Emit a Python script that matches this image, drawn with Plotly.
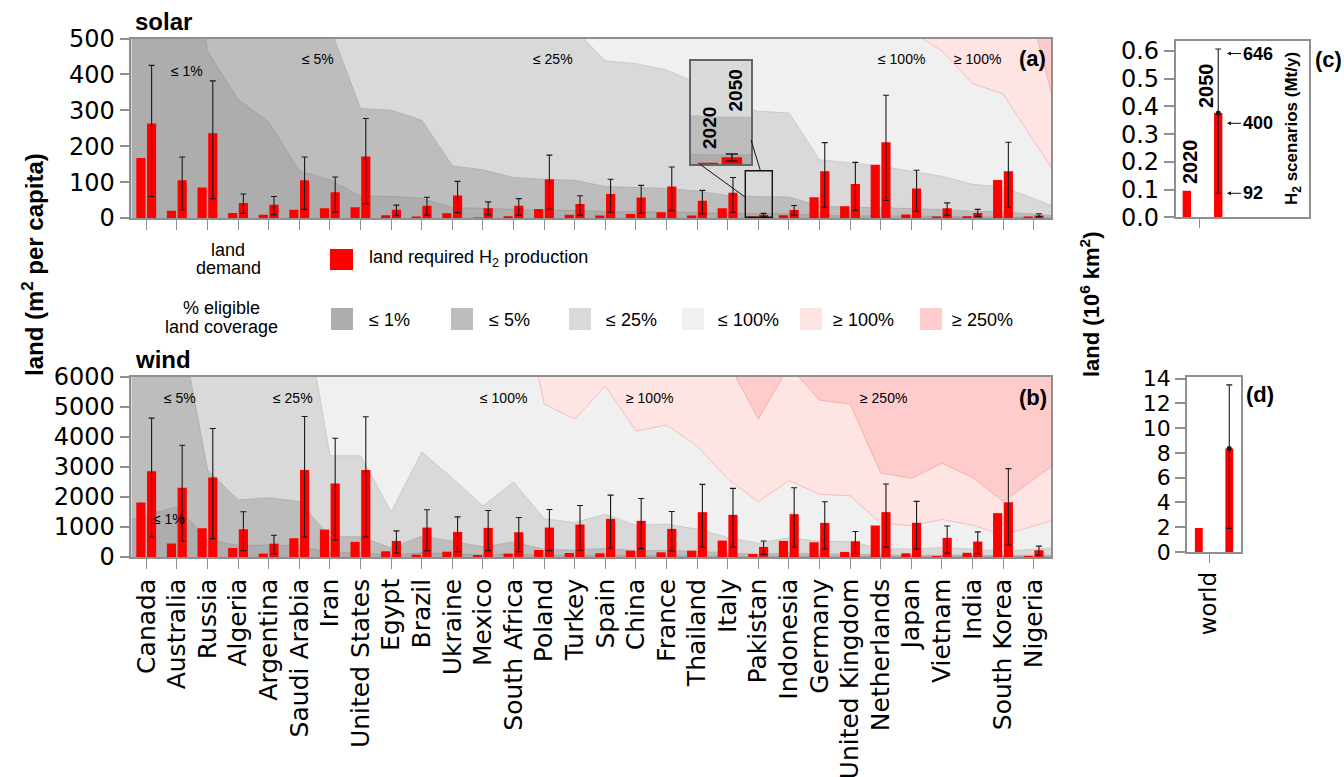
import plotly.graph_objects as go

W, H = 1344, 777

countries = [
    "Canada", "Australia", "Russia", "Algeria", "Argentina", "Saudi Arabia",
    "Iran", "United States", "Egypt", "Brazil", "Ukraine", "Mexico",
    "South Africa", "Poland", "Turkey", "Spain", "China", "France",
    "Thailand", "Italy", "Pakistan", "Indonesia", "Germany",
    "United Kingdom", "Netherlands", "Japan", "Vietnam", "India",
    "South Korea", "Nigeria",
]

# solar: land required for H2 production (m2 per capita)
solar_2020 = [167, 20, 85, 14, 9, 23, 27, 30, 7.5, 2, 13, 1, 5, 25, 9, 7, 11, 16, 7, 27,
              2, 8, 58, 33, 148, 10, 2, 5, 106, 2]
solar_2050 = [263, 105, 236, 42, 37, 105, 72, 171, 23, 34, 63, 27, 34, 108, 39, 67, 57, 88, 48, 70,
              9, 22, 130, 95, 211, 82, 27, 14, 130, 7]
solar_2050_lo = [60, 23, 54, 13, 9, 24, 16, 40, 6.5, 8, 15, 9, 8, 25, 8, 16, 13, 20, 11, 16,
                 4, 8, 30, 21, 49, 19, 8, 4.5, 30, 3]
solar_2050_hi = [425, 170, 382, 67, 60, 170, 114, 277, 36, 58, 102, 45, 54, 175, 62, 108, 91, 142, 77, 113,
                 13, 35, 210, 155, 342, 133, 42, 24, 211, 12]
# eligible land for solar parks (m2 per capita)
solar_eligible = [130000, 100000, 46500, 33000, 26700, 13100, 10600, 6100, 6000, 5450, 2900, 2680,
                  2250, 2150, 2100, 1750, 1720, 1650, 1500, 1250, 1190, 1170, 648, 614, 578, 520,
                  465, 375, 345, 215]

# wind: land required for H2 production (m2 per capita)
wind_2020 = [1818, 446, 959, 301, 112, 625, 914, 502, 190, 78, 178, 67, 112, 234, 134, 123, 212, 156,
             212, 546, 100, 535, 491, 170, 1050, 123, 10, 140, 1462, 33]
wind_2050 = [2855, 2309, 2654, 926, 446, 2900, 2454, 2900, 535, 981, 836, 970, 825, 981, 1082, 1271,
             1204, 937, 1494, 1405, 335, 1428, 1138, 525, 1495, 1140, 636, 514, 1825, 223]
wind_2050_lo = [669, 535, 613, 212, 112, 669, 558, 669, 134, 212, 178, 212, 178, 212, 223, 301, 279,
                201, 335, 335, 89, 335, 268, 115, 330, 262, 123, 112, 402, 62]
wind_2050_hi = [4628, 3725, 4283, 1506, 725, 4684, 3959, 4673, 870, 1573, 1338, 1550, 1316, 1584, 1717,
                2063, 1952, 1517, 2420, 2286, 535, 2309, 1840, 850, 2435, 1853, 1032, 838, 2947, 362]
# eligible land for wind parks (m2 per capita)
wind_eligible = [139400, 167300, 58000, 38000, 39500, 37000, 13500, 13500, 6000, 14000, 10500, 6800,
                 10000, 5100, 4600, 5700, 4200, 4400, 3700, 2600, 1840, 2550, 2090, 2040, 1120, 1050,
                 1250, 1060, 740, 1035]

# world totals (10^6 km2): 2020 and 2050, with the 2050 scenario range
world_solar_land = [0.096, 0.376]
world_solar_range = [0.087, 0.607]
world_wind_land = [1.94, 8.35]
world_wind_range = [1.91, 13.49]
h2_scenarios = ["92", "400", "646"]  # Mt/y

# share of eligible land covered
thresholds = [1, 5, 25, 100, 250]
coverage_labels = ["\u2264 1%", "\u2264 5%", "\u2264 25%", "\u2264 100%", "\u2265 100%", "\u2265 250%"]
coverage_colors = ["#adadad", "#bdbdbd", "#d9d9d9", "#f0f0f0", "#ffe4e4", "#ffcccc"]
edge_colors = ["#999999", "#a9a9a9", "#c4c4c4", "#f2b4b4", "#f5a3a3"]

RED = "#ff0000"
FRAME = "#8f8f8f"
SANS = "Liberation Sans, Arial, sans-serif"
TICKFONT = "DejaVu Sans, sans-serif"

X_LO, X_HI = -0.49, 29.57
BAR_W = 0.3
OFF_2020, OFF_2050 = -0.33, 0.02


def px(x):
    return x / W


def py(y):
    return 1 - y / H


def outline(values, frac):
    """Coverage threshold line, carried on to both frame edges."""
    ys = [v * frac for v in values]
    n = len(ys)
    left = max(ys[0] + (ys[0] - ys[1]) * (0 - X_LO), 0)
    right = max(ys[-1] + (ys[-1] - ys[-2]) * (X_HI - (n - 1)), 0)
    return [X_LO] + list(range(n)) + [X_HI], [left] + ys + [right]


def shading(eligible, xa, ya):
    out = []
    for k, t in enumerate(thresholds):
        xs, ys = outline(eligible, t / 100)
        out.append(go.Scatter(
            x=xs, y=ys, xaxis=xa, yaxis=ya, mode="lines",
            line=dict(color=edge_colors[k], width=0.8),
            fill="tozeroy" if k == 0 else "tonexty",
            fillcolor=coverage_colors[k], hoverinfo="skip", showlegend=False))
    return out


def bars(v20, v50, lo, hi, xa, ya, cap=3, thick=1.1):
    xs = list(range(len(v20)))
    return [
        go.Bar(x=xs, y=v20, xaxis=xa, yaxis=ya, width=BAR_W, offset=OFF_2020,
               marker=dict(color=RED, line=dict(width=0)), hoverinfo="skip"),
        go.Bar(x=xs, y=v50, xaxis=xa, yaxis=ya, width=BAR_W, offset=OFF_2050,
               marker=dict(color=RED, line=dict(width=0)), hoverinfo="skip",
               error_y=dict(type="data", symmetric=False,
                            array=[h - v for h, v in zip(hi, v50)],
                            arrayminus=[v - l for v, l in zip(v50, lo)],
                            color="#1a1a1a", thickness=thick, width=cap)),
    ]


def world_bars(vals, rng, xa, ya, off20, off50, bw):
    return [
        go.Bar(x=[0], y=[vals[0]], xaxis=xa, yaxis=ya, width=bw, offset=off20,
               marker=dict(color=RED, line=dict(width=0)), hoverinfo="skip"),
        go.Bar(x=[0], y=[vals[1]], xaxis=xa, yaxis=ya, width=bw, offset=off50,
               marker=dict(color=RED, line=dict(width=0)), hoverinfo="skip",
               error_y=dict(type="data", symmetric=False,
                            array=[rng[1] - vals[1]], arrayminus=[vals[1] - rng[0]],
                            color="#1a1a1a", thickness=1.1, width=3)),
        go.Scatter(x=[off50 + bw / 2], y=[vals[1]], xaxis=xa, yaxis=ya, mode="markers",
                   marker=dict(color="#1a1a1a", size=5), hoverinfo="skip"),
    ]


fig = go.Figure()
# solar panel (a)
fig.add_traces(shading(solar_eligible, "x", "y"))
fig.add_traces(bars(solar_2020, solar_2050, solar_2050_lo, solar_2050_hi, "x2", "y2"))
# wind panel (b)
fig.add_traces(shading(wind_eligible, "x3", "y3"))
fig.add_traces(bars(wind_2020, wind_2050, wind_2050_lo, wind_2050_hi, "x4", "y4"))
# magnified view of Pakistan (solar)
fig.add_traces(shading(solar_eligible, "x5", "y5"))
fig.add_traces(bars(solar_2020, solar_2050, solar_2050_lo, solar_2050_hi, "x6", "y6", cap=6, thick=1.5))
# world totals (c) and (d)
fig.add_traces(world_bars(world_solar_land, world_solar_range, "x7", "y7", -0.49, 0.45, 0.25))
fig.add_traces(world_bars(world_wind_land, world_wind_range, "x8", "y8", -0.523, 0.606, 0.29))

solar_dom_x = [px(131.4), px(1051.2)]
solar_dom_y = [py(218), py(38.5)]
wind_dom_y = [py(557), py(377)]

frame = dict(showline=True, linecolor=FRAME, linewidth=1.5, mirror=True,
             showgrid=False, zeroline=False, automargin=False)


def ytick(size=24):
    return dict(ticks="outside", ticklen=10, tickcolor=FRAME, tickwidth=1.5,
                tickfont=dict(family=TICKFONT, size=size, color="black"))


hidden = dict(visible=False, showgrid=False, zeroline=False, automargin=False)

fig.update_layout(
    xaxis=dict(**frame, domain=solar_dom_x, anchor="y", range=[X_LO, X_HI],
               tickvals=list(range(len(countries))), showticklabels=False,
               ticks="outside", ticklen=10, tickcolor=FRAME, tickwidth=1.2),
    yaxis=dict(**frame, **ytick(), domain=solar_dom_y, anchor="x", range=[0, 500],
               dtick=100, tickformat="d"),
    xaxis2=dict(**hidden, overlaying="x", anchor="y2", range=[X_LO, X_HI]),
    yaxis2=dict(**hidden, overlaying="y", anchor="x2", range=[0, 500]),
    xaxis3=dict(**frame, domain=solar_dom_x, anchor="y3", range=[X_LO, X_HI],
                tickvals=list(range(len(countries))), ticktext=countries,
                tickangle=-90, ticks="outside", ticklen=10, tickcolor=FRAME, tickwidth=1.2,
                tickfont=dict(family=TICKFONT, size=25, color="black")),
    yaxis3=dict(**frame, **ytick(), domain=wind_dom_y, anchor="x3", range=[0, 6000],
                dtick=1000, tickformat="d"),
    xaxis4=dict(**hidden, overlaying="x3", anchor="y4", range=[X_LO, X_HI]),
    yaxis4=dict(**hidden, overlaying="y3", anchor="x4", range=[0, 6000]),
    xaxis5=dict(showline=True, linecolor="#666666", linewidth=1.5, mirror=True,
                showgrid=False, zeroline=False, automargin=False, showticklabels=False,
                domain=[px(691), px(751)], anchor="y5", range=[19.57, 20.45]),
    yaxis5=dict(showline=True, linecolor="#666666", linewidth=1.5, mirror=True,
                showgrid=False, zeroline=False, automargin=False, showticklabels=False,
                domain=[py(164.3), py(61)], anchor="x5", range=[0, 130]),
    xaxis6=dict(**hidden, overlaying="x5", anchor="y6", range=[19.57, 20.45]),
    yaxis6=dict(**hidden, overlaying="y5", anchor="x6", range=[0, 130]),
    xaxis7=dict(**frame, domain=[px(1175.7), px(1309.3)], anchor="y7", range=[-0.698, 3.302],
                tickvals=[0], showticklabels=False, ticks="outside", ticklen=9, tickcolor=FRAME,
                tickwidth=1.2),
    yaxis7=dict(**frame, **ytick(), domain=[py(217.3), py(40.7)], anchor="x7",
                range=[0, 0.637], dtick=0.1, tickformat=".1f"),
    xaxis8=dict(**frame, domain=[px(1187), px(1241)], anchor="y8", range=[-0.815, 1.185],
                tickvals=[0], ticktext=["world"], tickangle=-90, ticks="outside", ticklen=9,
                tickcolor=FRAME, tickwidth=1.2,
                tickfont=dict(family=TICKFONT, size=23, color="black")),
    yaxis8=dict(**frame, **ytick(22), domain=[py(552), py(376.7)], anchor="x8",
                range=[0, 14.15], dtick=2, tickformat="d"),
)

shapes = []
# the top coverage class fills whatever the threshold lines leave above them
for ref in ("", "3"):
    shapes.append(dict(type="rect", xref=f"x{ref} domain", yref=f"y{ref} domain",
                       x0=0, x1=1, y0=0, y1=1, fillcolor=coverage_colors[5],
                       line=dict(width=0), layer="below"))

# box marking the magnified area and its connectors
shapes.append(dict(type="rect", xref="paper", yref="paper", x0=px(745.3), x1=px(772.3),
                   y0=py(217.3), y1=py(170.7), line=dict(color="#111111", width=1.4)))
for (x0, y0, x1, y1) in [(700, 164.3, 746, 197.7), (751, 140, 760.4, 170.7)]:
    shapes.append(dict(type="line", xref="paper", yref="paper", x0=px(x0), y0=py(y0),
                       x1=px(x1), y1=py(y1), line=dict(color="#111111", width=1)))

# legend swatches
shapes.append(dict(type="rect", xref="paper", yref="paper", x0=px(330), x1=px(353),
                   y0=py(270), y1=py(249), fillcolor=RED, line=dict(width=0)))
swatch_x = [331, 451, 569, 682, 800, 920]
for sx, col in zip(swatch_x, coverage_colors):
    shapes.append(dict(type="rect", xref="paper", yref="paper", x0=px(sx), x1=px(sx + 22),
                       y0=py(330), y1=py(308), fillcolor=col, line=dict(width=0)))

ann = []


def text(x, y, s, size=14, bold=False, anchor="center", angle=0, family=SANS):
    ann.append(dict(x=px(x), y=py(y), xref="paper", yref="paper", showarrow=False,
                    text=f"<b>{s}</b>" if bold else s, textangle=angle,
                    xanchor=anchor, yanchor="middle",
                    font=dict(family=family, size=size, color="black")))


# panel titles and letters
text(133, 22, "solar", size=24, bold=True, anchor="left")
text(133, 360, "wind", size=24, bold=True, anchor="left")
text(1032, 58, "(a)", size=22, bold=True)
text(1033, 397, "(b)", size=22, bold=True)
text(1328, 60, "(c)", size=22, bold=True)
text(1260, 395, "(d)", size=22, bold=True)

# coverage class labels inside the panels
for (x, y), lab in zip([(187, 71), (318, 59), (553, 59), (902, 59), (977, 59)], coverage_labels[:5]):
    text(x, y, lab, size=14)
for (x, y), lab in zip([(169, 519), (180, 398), (293, 398), (503, 398), (649, 398), (883, 398)],
                       coverage_labels):
    text(x, y, lab, size=14)

# axis titles
text(33, 265, "land (m<sup>2</sup> per capita)", size=24, bold=True, angle=-90)
text(1090, 304, "land (10<sup>6</sup> km<sup>2</sup>)", size=22, bold=True, angle=-90)

# legend texts
text(228, 250, "land", size=18)
text(228, 268, "demand", size=18)
text(221, 308, "% eligible", size=18)
text(221, 327, "land coverage", size=18)
text(367, 259, "land required H<sub>2</sub> production", size=18, anchor="left")
for tx, lab in zip([367, 487, 604, 716, 831, 950], coverage_labels):
    text(tx, 320, lab, size=18, anchor="left")

# year labels
text(710, 128, "2020", size=19, bold=True, angle=-90)
text(734.5, 91, "2050", size=19, bold=True, angle=-90)
text(1190, 162, "2020", size=20, bold=True, angle=-90)
text(1206, 86, "2050", size=20, bold=True, angle=-90)
text(1293, 129, "H<sub>2</sub> scenarios (Mt/y)", size=17, bold=True, angle=-90)

# H2 scenario markers beside the 2050 range
for lab, yy, off in zip(h2_scenarios, [193.3, 123.3, 53.5], [25.5, 30.5, 30.5]):
    ann.append(dict(x=px(1227), y=py(yy), xref="paper", yref="paper", text=f"<b>{lab}</b>",
                    showarrow=True, ax=off, ay=0, arrowhead=2, arrowsize=0.8, arrowwidth=1,
                    arrowcolor="#111111",
                    font=dict(family=SANS, size=18, color="black")))

fig.update_layout(
    width=W, height=H, margin=dict(l=0, r=0, t=0, b=0, pad=0),
    template="none", showlegend=False, barmode="overlay",
    paper_bgcolor="white", plot_bgcolor="white",
    shapes=shapes, annotations=ann,
)

fig.write_html("out.html", config={"displayModeBar": False})
